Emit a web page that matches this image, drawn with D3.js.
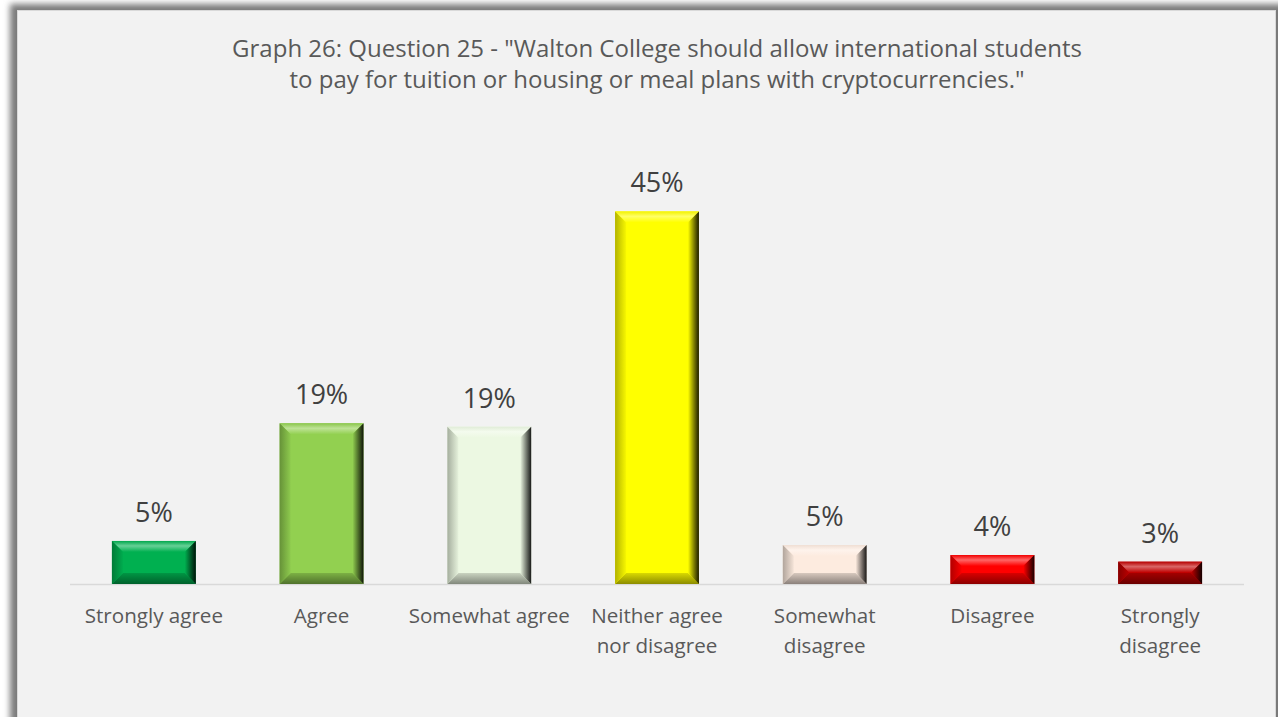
<!DOCTYPE html>
<html>
<head>
<meta charset="utf-8">
<script src="https://cdn.jsdelivr.net/npm/d3@7"></script>
<style>
  body { margin: 0; background: #fff; overflow: hidden; }
  text { font-family: "Open Sans", "Noto Sans", sans-serif; }
</style>
</head>
<body>
<div id="chart"></div>
<script>
var categories = ["Strongly agree", "Agree", "Somewhat agree", "Neither agree nor disagree",
	"Somewhat disagree", "Disagree", "Strongly disagree"];
var tickLines = [["Strongly agree"], ["Agree"], ["Somewhat agree"], ["Neither agree", "nor disagree"],
	["Somewhat", "disagree"], ["Disagree"], ["Strongly", "disagree"]];
var values = [5.2, 19.4, 19.0, 45.0, 4.7, 3.5, 2.7];
var barColors = ["#00b050", "#92d050", "#ecf8e2", "#ffff00", "#fdebdf", "#ff0000", "#c00000"];
var titleLines = ["Graph 26: Question 25 - \"Walton College should allow international students",
	"to pay for tuition or housing or meal plans with cryptocurrencies.\""];

var width = 1278,
	height = 717;
var baseY = 584;

var svg = d3.select("#chart").append("svg")
	.attr("width", width)
	.attr("height", height);

var defs = svg.append("defs");

// frame shadow
var blur = defs.append("filter").attr("id", "blur")
	.attr("x", "-5%").attr("y", "-5%").attr("width", "110%").attr("height", "110%");
blur.append("feGaussianBlur").attr("stdDeviation", 3);

svg.append("rect")
	.attr("x", 10).attr("y", 4)
	.attr("width", 1300).attr("height", 800)
	.attr("fill", "#7a7a7a")
	.attr("filter", "url(#blur)");

svg.append("rect")
	.attr("x", 17.5).attr("y", 10.5)
	.attr("width", 1258).attr("height", 760)
	.attr("fill", "#f2f2f2")
	.attr("stroke", "#d9d9d9")
	.attr("stroke-width", 1);

var xScale = d3.scaleBand()
	.domain(categories)
	.range([70, 1244])
	.paddingInner(0.5)
	.paddingOuter(0.25);

var yScale = d3.scaleLinear()
	.domain([0, 50])
	.range([baseY, 170]);

// title
svg.append("text")
	.attr("x", 657)
	.attr("y", 57)
	.attr("text-anchor", "middle")
	.attr("fill", "#595959")
	.style("font-size", "24px")
	.selectAll("tspan").data(titleLines)
	.enter().append("tspan")
		.attr("x", 657)
		.attr("dy", function(d, i){ return i ? 31 : 0; })
		.text(function(d){ return d; });

// baseline
svg.append("line")
	.attr("x1", 70).attr("x2", 1244)
	.attr("y1", baseY + 0.5).attr("y2", baseY + 0.5)
	.attr("stroke", "#d9d9d9")
	.attr("stroke-width", 1.5);

function mix(a, b, t){ return d3.interpolateRgb(a, b)(t); }

// gradients for bevel faces
barColors.forEach(function(c, i){
	var g;
	g = defs.append("linearGradient").attr("id", "top" + i)
		.attr("x1", 0).attr("y1", 0).attr("x2", 0).attr("y2", 1);
	g.append("stop").attr("offset", 0).attr("stop-color", mix(c, "#000", 0.05));
	g.append("stop").attr("offset", 0.45).attr("stop-color", mix(c, "#fff", 0.4));
	g.append("stop").attr("offset", 1).attr("stop-color", c);

	g = defs.append("linearGradient").attr("id", "left" + i)
		.attr("x1", 0).attr("y1", 0).attr("x2", 1).attr("y2", 0);
	g.append("stop").attr("offset", 0).attr("stop-color", mix(c, "#000", 0.3));
	g.append("stop").attr("offset", 1).attr("stop-color", mix(c, "#000", 0.03));

	g = defs.append("linearGradient").attr("id", "right" + i)
		.attr("x1", 0).attr("y1", 0).attr("x2", 1).attr("y2", 0);
	g.append("stop").attr("offset", 0).attr("stop-color", c);
	g.append("stop").attr("offset", 0.55).attr("stop-color", mix(c, "#000", 0.5));
	g.append("stop").attr("offset", 1).attr("stop-color", mix(c, "#000", 0.9));

	g = defs.append("linearGradient").attr("id", "bottom" + i)
		.attr("x1", 0).attr("y1", 0).attr("x2", 0).attr("y2", 1);
	g.append("stop").attr("offset", 0).attr("stop-color", mix(c, "#000", 0.15));
	g.append("stop").attr("offset", 1).attr("stop-color", mix(c, "#000", 0.45));
});

var bars = svg.selectAll(".bar").data(values)
	.enter().append("g")
	.attr("class", "bar");

bars.each(function(d, i){
	var x0 = xScale(categories[i]),
		x1 = x0 + xScale.bandwidth(),
		y0 = yScale(d),
		y1 = yScale(0),
		b = Math.min(11, (y1 - y0) / 2, (x1 - x0) / 2);
	var gsel = d3.select(this);
	gsel.append("rect")
		.attr("x", x0).attr("y", y0)
		.attr("width", x1 - x0).attr("height", y1 - y0)
		.attr("fill", barColors[i]);
	var faces = {
		top: [[x0, y0], [x1, y0], [x1 - b, y0 + b], [x0 + b, y0 + b]],
		bottom: [[x0, y1], [x1, y1], [x1 - b, y1 - b], [x0 + b, y1 - b]],
		left: [[x0, y0], [x0 + b, y0 + b], [x0 + b, y1 - b], [x0, y1]],
		right: [[x1, y0], [x1 - b, y0 + b], [x1 - b, y1 - b], [x1, y1]]
	};
	Object.keys(faces).forEach(function(k){
		gsel.append("polygon")
			.attr("points", faces[k].map(function(p){ return p.join(","); }).join(" "))
			.attr("fill", "url(#" + k + i + ")");
	});
});

// value labels
svg.selectAll(".val").data(values)
	.enter().append("text")
	.attr("class", "val")
	.attr("x", function(d, i){ return xScale(categories[i]) + xScale.bandwidth() / 2; })
	.attr("y", function(d){ return yScale(d) - 19; })
	.attr("text-anchor", "middle")
	.attr("fill", "#404040")
	.style("font-size", "27px")
	.text(function(d){ return Math.round(d) + "%"; });

// category labels
var ticks = svg.selectAll(".tick").data(categories)
	.enter().append("text")
	.attr("class", "tick")
	.attr("text-anchor", "middle")
	.attr("fill", "#595959")
	.style("font-size", "20.6px");

ticks.selectAll("tspan")
	.data(function(d, i){ return tickLines[i].map(function(t){ return { t: t, c: d }; }); })
	.enter().append("tspan")
		.attr("x", function(d){ return xScale(d.c) + xScale.bandwidth() / 2; })
		.attr("y", function(d, j){ return 623 + j * 30; })
		.text(function(d){ return d.t; });
</script>
</body>
</html>
